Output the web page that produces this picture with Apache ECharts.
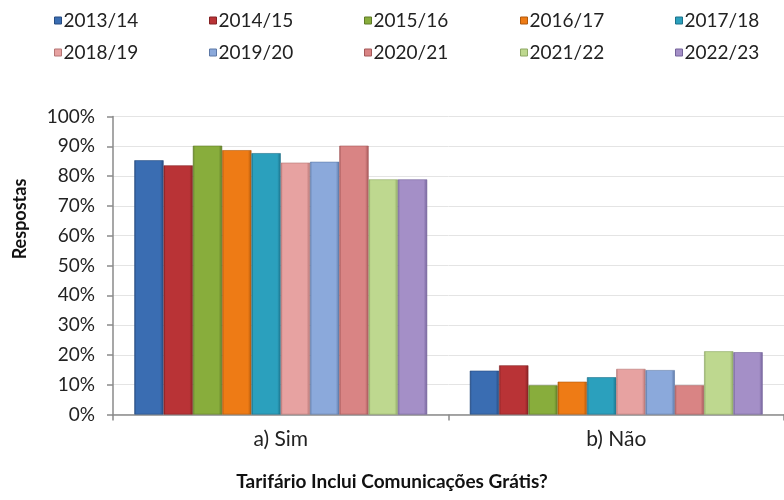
<!DOCTYPE html>
<html>
<head>
<meta charset="utf-8">
<script src="https://cdn.jsdelivr.net/npm/echarts@6/dist/echarts.min.js"></script>
<style>html,body{margin:0;padding:0;background:#fff}#c{width:784px;height:500px}</style>
</head>
<body>
<div id="c"></div>
<script>
const categories = ['a) Sim', 'b) Não'];
const seasons = ['2013/14','2014/15','2015/16','2016/17','2017/18','2018/19','2019/20','2020/21','2021/22','2022/23'];
const s2013 = [0.853, 0.147];
const s2014 = [0.836, 0.165];
const s2015 = [0.902, 0.098];
const s2016 = [0.887, 0.110];
const s2017 = [0.877, 0.125];
const s2018 = [0.845, 0.153];
const s2019 = [0.848, 0.149];
const s2020 = [0.902, 0.098];
const s2021 = [0.789, 0.212];
const s2022 = [0.789, 0.209];
const yTicks = ['0%','10%','20%','30%','40%','50%','60%','70%','80%','90%','100%'];
const yTitle = 'Respostas';
const xTitle = 'Tarifário Inclui Comunicações Grátis?';

const values = [s2013,s2014,s2015,s2016,s2017,s2018,s2019,s2020,s2021,s2022];
const colors = ['#3a6db2','#b93336','#88ad3c','#ee7b15','#2ba0bd','#e7a2a1','#8ba9db','#d98484','#bed88f','#a48fc7'];
const dark = ['#264b80','#842224','#5e7a26','#b0590c','#1c7189','#b57574','#5d78a6','#a45859','#8ea865','#74639a'];
const light = ['#6f9ad6','#de6a6c','#b2d56a','#ffa451','#64c8e2','#f6cccb','#bcd0f2','#f0b0b0','#e2f3bf','#c9b9e6'];
const FONT = 'Lato';

function grad(c, d) {
  return new echarts.graphic.LinearGradient(0, 0, 1, 0, [
    {offset: 0, color: d},
    {offset: 0.07, color: c},
    {offset: 0.88, color: c},
    {offset: 1, color: d}
  ]);
}

const series = seasons.map((name, i) => ({
  name: name,
  type: 'bar',
  data: values[i],
  barGap: '0%',
  barCategoryGap: '12.7%',
  itemStyle: {color: grad(colors[i], dark[i]), borderColor: dark[i], borderWidth: 0.6},
  emphasis: {disabled: true}
}));

const legendX = [54, 209, 364, 520, 675];
const legends = seasons.map((name, i) => ({
  data: [{name: name, itemStyle: {color: colors[i], borderColor: dark[i], borderWidth: 1}}],
  left: legendX[i % 5],
  top: i < 5 ? 11 : 43,
  padding: 0,
  itemWidth: 7,
  itemHeight: 7,
  icon: 'rect',
  selectedMode: false,
  textStyle: {fontFamily: FONT, fontSize: 19, color: '#222', padding: [0,0,0,-3]}
}));

const chart = echarts.init(document.getElementById('c'));
chart.setOption({
  animation: false,
  legend: legends,
  grid: {left: 113, right: -9, top: 116.5, bottom: 85.5, containLabel: false},
  xAxis: {
    type: 'category',
    data: categories,
    axisLine: {lineStyle: {color: '#8a8a8a', width: 1.5}},
    axisTick: {show: true, length: 6, lineStyle: {color: '#8a8a8a', width: 1.5}},
    axisLabel: {fontFamily: FONT, fontSize: 21, color: '#222', margin: 14}
  },
  yAxis: {
    type: 'value',
    min: 0, max: 1, interval: 0.1,
    axisLine: {show: true, lineStyle: {color: '#8a8a8a', width: 1.5}},
    axisTick: {show: true, length: 6, lineStyle: {color: '#8a8a8a', width: 1.5}},
    splitLine: {lineStyle: {color: '#e4e4e4', width: 1}},
    axisLabel: {fontFamily: FONT, fontSize: 19, color: '#222', margin: 18,
      formatter: v => yTicks[Math.round(v * 10)]}
  },
  graphic: [
    {type: 'text', x: 20, y: 219, rotation: Math.PI / 2,
     style: {text: yTitle, fontFamily: FONT, fontSize: 18, fontWeight: 'bold', fill: '#111',
       align: 'center', verticalAlign: 'middle'}},
    {type: 'text', x: 392, y: 482,
     style: {text: xTitle, fontFamily: FONT, fontSize: 19, fontWeight: 'bold', fill: '#111',
       align: 'center', verticalAlign: 'middle'}}
  ],
  series: series
});
</script>
</body>
</html>
